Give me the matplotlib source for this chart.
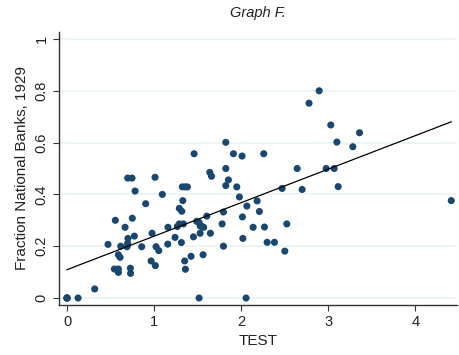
import numpy as np
import matplotlib.pyplot as plt

plt.rcParams['font.family'] = ['Liberation Sans', 'DejaVu Sans']

# 数据 (从图中读取; 原点处有几个重叠的点)
test = [0.0, 0.0, 0.0, 0.0, 0.127, 0.318, 0.544, 0.59, 0.59, 0.728, 0.73, 0.471,
        0.59, 0.61, 0.617, 0.69, 0.697, 0.70, 0.774, 0.667, 0.555, 0.75, 0.858,
        0.966, 1.015, 0.977, 1.023, 1.054, 1.157, 1.16, 0.697, 0.747, 1.011, 0.782,
        1.095, 0.904, 1.824, 1.46, 1.912, 2.011, 1.824, 1.64, 1.66, 1.854, 1.824,
        1.95, 1.98, 1.325, 1.356, 1.383, 1.33, 1.29, 1.318, 1.606, 1.49, 1.517,
        1.53, 1.548, 1.57, 1.29, 1.267, 1.337, 1.241, 1.314, 1.452, 1.529, 1.647,
        1.782, 1.797, 2.066, 2.015, 2.184, 2.21, 2.138, 2.02, 1.797, 1.425, 1.352,
        1.36, 1.563, 1.517, 2.057, 2.897, 2.78, 3.03, 3.36, 3.10, 3.283, 2.26,
        2.644, 2.977, 3.069, 3.115, 2.471, 2.701, 2.268, 2.525, 2.299, 2.383,
        2.502, 4.414]
frac = [0.0, 0.0, 0.0, 0.0, 0.0, 0.035, 0.112, 0.112, 0.099, 0.115, 0.095, 0.207,
        0.167, 0.157, 0.2, 0.198, 0.211, 0.23, 0.239, 0.273, 0.3, 0.308, 0.198,
        0.143, 0.125, 0.25, 0.198, 0.183, 0.208, 0.273, 0.463, 0.463, 0.466, 0.413,
        0.40, 0.364, 0.601, 0.557, 0.557, 0.548, 0.50, 0.485, 0.47, 0.456, 0.434,
        0.429, 0.39, 0.429, 0.429, 0.429, 0.376, 0.346, 0.335, 0.316, 0.296, 0.292,
        0.278, 0.276, 0.273, 0.286, 0.276, 0.286, 0.234, 0.214, 0.236, 0.25, 0.25,
        0.286, 0.332, 0.355, 0.313, 0.375, 0.334, 0.273, 0.23, 0.20, 0.161, 0.143,
        0.111, 0.167, 0.0, 0.0, 0.80, 0.752, 0.668, 0.638, 0.602, 0.584, 0.557,
        0.50, 0.50, 0.50, 0.43, 0.423, 0.419, 0.274, 0.286, 0.215, 0.215, 0.181,
        0.376]

test = np.array(test)
frac = np.array(frac)

fig = plt.figure(figsize=(4.59, 3.55), dpi=100)
ax = fig.add_axes([59 / 459, 50 / 355, 398 / 459, 273 / 355])

# 网格
ax.set_yticks([0, 0.2, 0.4, 0.6, 0.8, 1])
ax.set_yticklabels(['0', '0.2', '0.4', '0.6', '0.8', '1'], rotation=90, va='center')
ax.grid(axis='y', color='#eaf2f3', linewidth=1.2, zorder=0)

ax.scatter(test, frac, s=26, color='#1a476f', edgecolors='none', zorder=3)

# 回归线
b, a = np.polyfit(test, frac, 1)
xs = np.array([test.min(), test.max()])
ax.plot(xs, a + b * xs, color='black', linewidth=0.9, zorder=4)

ax.set_xlim(-0.092, 4.48)
ax.set_ylim(-0.027, 1.027)
ax.set_xticks([0, 1, 2, 3, 4])

for s in ['top', 'right']:
    ax.spines[s].set_visible(False)
for s in ['left', 'bottom']:
    ax.spines[s].set_color('#333333')
    ax.spines[s].set_linewidth(1.0)
ax.tick_params(axis='both', labelsize=10.5, length=4, color='#333333', labelcolor='#222222')

ax.set_xlabel('TEST', fontsize=11, color='#222222', labelpad=3)
ax.set_ylabel('Fraction National Banks, 1929', fontsize=11, color='#222222', labelpad=4)
ax.set_title('Graph F.', fontsize=10.5, style='italic', color='#222222', pad=11)

plt.savefig('out.png', dpi=100)
